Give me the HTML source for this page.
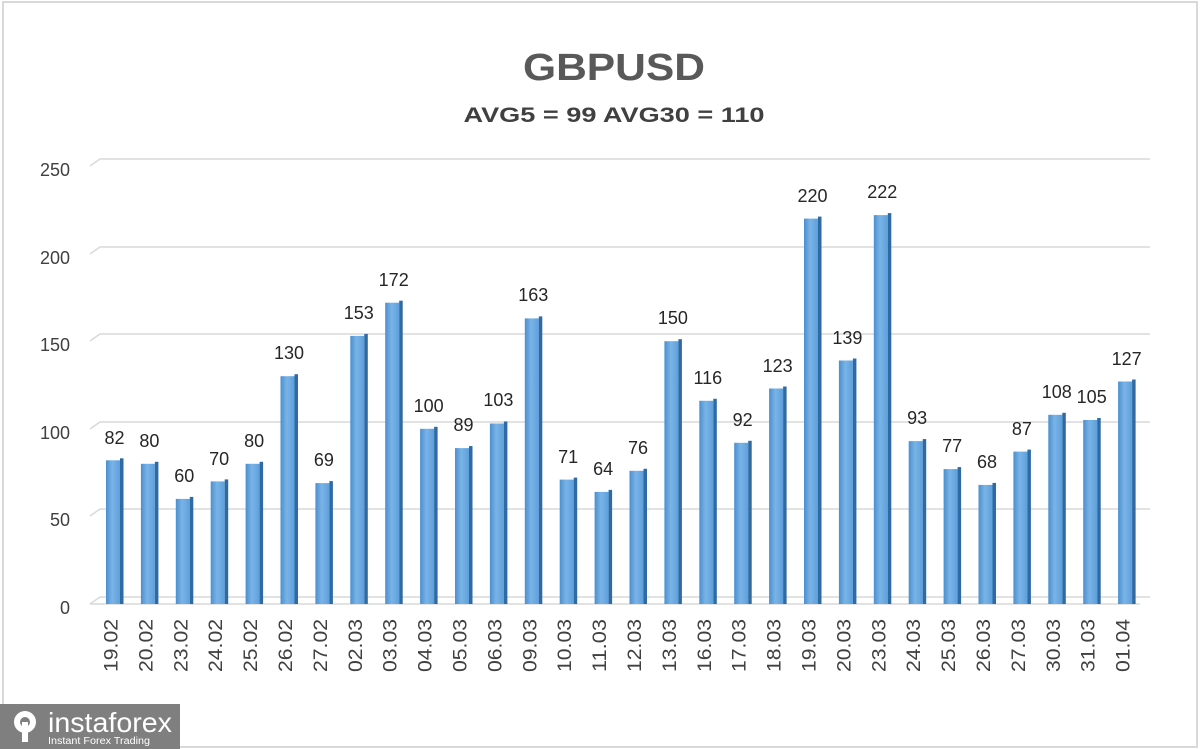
<!DOCTYPE html>
<html><head><meta charset="utf-8"><style>
body{margin:0;background:#fff}
svg{display:block}
text{font-family:"Liberation Sans",sans-serif}
</style></head><body>
<svg width="1200" height="749" viewBox="0 0 1200 749" xmlns="http://www.w3.org/2000/svg">
<defs>
<linearGradient id="f" x1="0" x2="1" y1="0" y2="0"><stop offset="0" stop-color="#4a8fd0"/><stop offset="0.45" stop-color="#7ab4e6"/><stop offset="1" stop-color="#5d9fdc"/></linearGradient>
</defs>
<rect x="0" y="0" width="1200" height="749" fill="#fff"/>
<rect x="3" y="2" width="1194" height="745" fill="none" stroke="#d9d9d9" stroke-width="2"/>
<text x="614" y="80" text-anchor="middle" font-size="38" font-weight="bold" fill="#595959" textLength="182" lengthAdjust="spacingAndGlyphs">GBPUSD</text>
<text x="614" y="122" text-anchor="middle" font-size="21" font-weight="bold" fill="#404040" textLength="301" lengthAdjust="spacingAndGlyphs">AVG5 = 99 AVG30 = 110</text>
<g stroke="#d9d9d9" stroke-width="1.5" fill="none">
<polyline points="90,166 100,159 1150,159"/>
<polyline points="90,254 100,247 1150,247"/>
<polyline points="90,341 100,334 1150,334"/>
<polyline points="90,429 100,422 1150,422"/>
<polyline points="90,516 100,509 1150,509"/>
<polyline points="90,604 100,597 1150,597"/>
<line x1="90" y1="604" x2="1140" y2="604"/>
</g>
<g font-size="18" fill="#404040" text-anchor="end">
<text x="70" y="176">250</text><text x="70" y="264">200</text><text x="70" y="351">150</text>
<text x="70" y="439">100</text><text x="70" y="526">50</text><text x="70" y="614">0</text>
</g>
<g id="bars">
<rect x="106" y="460.3" width="14" height="143.7" fill="url(#f)"/><rect x="120" y="458.3" width="3.5" height="145.7" fill="#2f6aa3"/>
<rect x="140.9" y="463.8" width="14" height="140.2" fill="url(#f)"/><rect x="154.9" y="461.8" width="3.5" height="142.2" fill="#2f6aa3"/>
<rect x="175.8" y="498.9" width="14" height="105.1" fill="url(#f)"/><rect x="189.8" y="496.9" width="3.5" height="107.1" fill="#2f6aa3"/>
<rect x="210.7" y="481.4" width="14" height="122.6" fill="url(#f)"/><rect x="224.7" y="479.4" width="3.5" height="124.6" fill="#2f6aa3"/>
<rect x="245.6" y="463.8" width="14" height="140.2" fill="url(#f)"/><rect x="259.6" y="461.8" width="3.5" height="142.2" fill="#2f6aa3"/>
<rect x="280.5" y="376.2" width="14" height="227.8" fill="url(#f)"/><rect x="294.5" y="374.2" width="3.5" height="229.8" fill="#2f6aa3"/>
<rect x="315.4" y="483.1" width="14" height="120.9" fill="url(#f)"/><rect x="329.4" y="481.1" width="3.5" height="122.9" fill="#2f6aa3"/>
<rect x="350.3" y="335.9" width="14" height="268.1" fill="url(#f)"/><rect x="364.3" y="333.9" width="3.5" height="270.1" fill="#2f6aa3"/>
<rect x="385.2" y="302.7" width="14" height="301.3" fill="url(#f)"/><rect x="399.2" y="300.7" width="3.5" height="303.3" fill="#2f6aa3"/>
<rect x="420.1" y="428.8" width="14" height="175.2" fill="url(#f)"/><rect x="434.1" y="426.8" width="3.5" height="177.2" fill="#2f6aa3"/>
<rect x="455" y="448.1" width="14" height="155.9" fill="url(#f)"/><rect x="469" y="446.1" width="3.5" height="157.9" fill="#2f6aa3"/>
<rect x="489.9" y="423.5" width="14" height="180.5" fill="url(#f)"/><rect x="503.9" y="421.5" width="3.5" height="182.5" fill="#2f6aa3"/>
<rect x="524.8" y="318.4" width="14" height="285.6" fill="url(#f)"/><rect x="538.8" y="316.4" width="3.5" height="287.6" fill="#2f6aa3"/>
<rect x="559.7" y="479.6" width="14" height="124.4" fill="url(#f)"/><rect x="573.7" y="477.6" width="3.5" height="126.4" fill="#2f6aa3"/>
<rect x="594.6" y="491.9" width="14" height="112.1" fill="url(#f)"/><rect x="608.6" y="489.9" width="3.5" height="114.1" fill="#2f6aa3"/>
<rect x="629.5" y="470.8" width="14" height="133.2" fill="url(#f)"/><rect x="643.5" y="468.8" width="3.5" height="135.2" fill="#2f6aa3"/>
<rect x="664.4" y="341.2" width="14" height="262.8" fill="url(#f)"/><rect x="678.4" y="339.2" width="3.5" height="264.8" fill="#2f6aa3"/>
<rect x="699.3" y="400.8" width="14" height="203.2" fill="url(#f)"/><rect x="713.3" y="398.8" width="3.5" height="205.2" fill="#2f6aa3"/>
<rect x="734.2" y="442.8" width="14" height="161.2" fill="url(#f)"/><rect x="748.2" y="440.8" width="3.5" height="163.2" fill="#2f6aa3"/>
<rect x="769.1" y="388.5" width="14" height="215.5" fill="url(#f)"/><rect x="783.1" y="386.5" width="3.5" height="217.5" fill="#2f6aa3"/>
<rect x="804" y="218.6" width="14" height="385.4" fill="url(#f)"/><rect x="818" y="216.6" width="3.5" height="387.4" fill="#2f6aa3"/>
<rect x="838.9" y="360.5" width="14" height="243.5" fill="url(#f)"/><rect x="852.9" y="358.5" width="3.5" height="245.5" fill="#2f6aa3"/>
<rect x="873.8" y="215.1" width="14" height="388.9" fill="url(#f)"/><rect x="887.8" y="213.1" width="3.5" height="390.9" fill="#2f6aa3"/>
<rect x="908.7" y="441.1" width="14" height="162.9" fill="url(#f)"/><rect x="922.7" y="439.1" width="3.5" height="164.9" fill="#2f6aa3"/>
<rect x="943.6" y="469.1" width="14" height="134.9" fill="url(#f)"/><rect x="957.6" y="467.1" width="3.5" height="136.9" fill="#2f6aa3"/>
<rect x="978.5" y="484.9" width="14" height="119.1" fill="url(#f)"/><rect x="992.5" y="482.9" width="3.5" height="121.1" fill="#2f6aa3"/>
<rect x="1013.4" y="451.6" width="14" height="152.4" fill="url(#f)"/><rect x="1027.4" y="449.6" width="3.5" height="154.4" fill="#2f6aa3"/>
<rect x="1048.3" y="414.8" width="14" height="189.2" fill="url(#f)"/><rect x="1062.3" y="412.8" width="3.5" height="191.2" fill="#2f6aa3"/>
<rect x="1083.2" y="420" width="14" height="184" fill="url(#f)"/><rect x="1097.2" y="418" width="3.5" height="186" fill="#2f6aa3"/>
<rect x="1118.1" y="381.5" width="14" height="222.5" fill="url(#f)"/><rect x="1132.1" y="379.5" width="3.5" height="224.5" fill="#2f6aa3"/>
</g>
<g font-size="18" fill="#262626" text-anchor="middle">
<text x="114.5" y="444">82</text><text x="149.4" y="447">80</text><text x="184.3" y="482">60</text><text x="219.2" y="465">70</text><text x="254.1" y="447">80</text><text x="289" y="359">130</text><text x="323.9" y="466">69</text><text x="358.8" y="319">153</text><text x="393.7" y="286">172</text><text x="428.6" y="412">100</text><text x="463.5" y="431">89</text><text x="498.4" y="406">103</text><text x="533.3" y="301">163</text><text x="568.2" y="463">71</text><text x="603.1" y="475">64</text><text x="638" y="454">76</text><text x="672.9" y="324">150</text><text x="707.8" y="384">116</text><text x="742.7" y="426">92</text><text x="777.6" y="372">123</text><text x="812.5" y="202">220</text><text x="847.4" y="344">139</text><text x="882.3" y="198">222</text><text x="917.2" y="424">93</text><text x="952.1" y="452">77</text><text x="987" y="468">68</text><text x="1021.9" y="435">87</text><text x="1056.8" y="398">108</text><text x="1091.7" y="403">105</text><text x="1126.6" y="365">127</text>
</g>
<g font-size="19" fill="#404040" text-anchor="end">
<text transform="translate(117.5,619) rotate(-90)" textLength="53" lengthAdjust="spacingAndGlyphs">19.02</text>
<text transform="translate(152.4,619) rotate(-90)" textLength="53" lengthAdjust="spacingAndGlyphs">20.02</text>
<text transform="translate(187.3,619) rotate(-90)" textLength="53" lengthAdjust="spacingAndGlyphs">23.02</text>
<text transform="translate(222.2,619) rotate(-90)" textLength="53" lengthAdjust="spacingAndGlyphs">24.02</text>
<text transform="translate(257.1,619) rotate(-90)" textLength="53" lengthAdjust="spacingAndGlyphs">25.02</text>
<text transform="translate(292,619) rotate(-90)" textLength="53" lengthAdjust="spacingAndGlyphs">26.02</text>
<text transform="translate(326.9,619) rotate(-90)" textLength="53" lengthAdjust="spacingAndGlyphs">27.02</text>
<text transform="translate(361.8,619) rotate(-90)" textLength="53" lengthAdjust="spacingAndGlyphs">02.03</text>
<text transform="translate(396.7,619) rotate(-90)" textLength="53" lengthAdjust="spacingAndGlyphs">03.03</text>
<text transform="translate(431.6,619) rotate(-90)" textLength="53" lengthAdjust="spacingAndGlyphs">04.03</text>
<text transform="translate(466.5,619) rotate(-90)" textLength="53" lengthAdjust="spacingAndGlyphs">05.03</text>
<text transform="translate(501.4,619) rotate(-90)" textLength="53" lengthAdjust="spacingAndGlyphs">06.03</text>
<text transform="translate(536.3,619) rotate(-90)" textLength="53" lengthAdjust="spacingAndGlyphs">09.03</text>
<text transform="translate(571.2,619) rotate(-90)" textLength="53" lengthAdjust="spacingAndGlyphs">10.03</text>
<text transform="translate(606.1,619) rotate(-90)" textLength="53" lengthAdjust="spacingAndGlyphs">11.03</text>
<text transform="translate(641,619) rotate(-90)" textLength="53" lengthAdjust="spacingAndGlyphs">12.03</text>
<text transform="translate(675.9,619) rotate(-90)" textLength="53" lengthAdjust="spacingAndGlyphs">13.03</text>
<text transform="translate(710.8,619) rotate(-90)" textLength="53" lengthAdjust="spacingAndGlyphs">16.03</text>
<text transform="translate(745.7,619) rotate(-90)" textLength="53" lengthAdjust="spacingAndGlyphs">17.03</text>
<text transform="translate(780.6,619) rotate(-90)" textLength="53" lengthAdjust="spacingAndGlyphs">18.03</text>
<text transform="translate(815.5,619) rotate(-90)" textLength="53" lengthAdjust="spacingAndGlyphs">19.03</text>
<text transform="translate(850.4,619) rotate(-90)" textLength="53" lengthAdjust="spacingAndGlyphs">20.03</text>
<text transform="translate(885.3,619) rotate(-90)" textLength="53" lengthAdjust="spacingAndGlyphs">23.03</text>
<text transform="translate(920.2,619) rotate(-90)" textLength="53" lengthAdjust="spacingAndGlyphs">24.03</text>
<text transform="translate(955.1,619) rotate(-90)" textLength="53" lengthAdjust="spacingAndGlyphs">25.03</text>
<text transform="translate(990,619) rotate(-90)" textLength="53" lengthAdjust="spacingAndGlyphs">26.03</text>
<text transform="translate(1024.9,619) rotate(-90)" textLength="53" lengthAdjust="spacingAndGlyphs">27.03</text>
<text transform="translate(1059.8,619) rotate(-90)" textLength="53" lengthAdjust="spacingAndGlyphs">30.03</text>
<text transform="translate(1094.7,619) rotate(-90)" textLength="53" lengthAdjust="spacingAndGlyphs">31.03</text>
<text transform="translate(1129.6,619) rotate(-90)" textLength="53" lengthAdjust="spacingAndGlyphs">01.04</text>
</g>
<rect x="0" y="704" width="180" height="45" fill="#7f7f7f"/>
<g fill="#fff">
<circle cx="25" cy="722" r="11"/>
<circle cx="25" cy="722" r="5" fill="#7f7f7f"/>
<rect x="22" y="722" width="6" height="20"/>
</g>
<text x="48" y="732" font-size="28" fill="#fff" textLength="124" lengthAdjust="spacingAndGlyphs">instaforex</text>
<text x="48" y="744" font-size="10" fill="#fff" textLength="102" lengthAdjust="spacingAndGlyphs">Instant Forex Trading</text>
</svg>
</body></html>
